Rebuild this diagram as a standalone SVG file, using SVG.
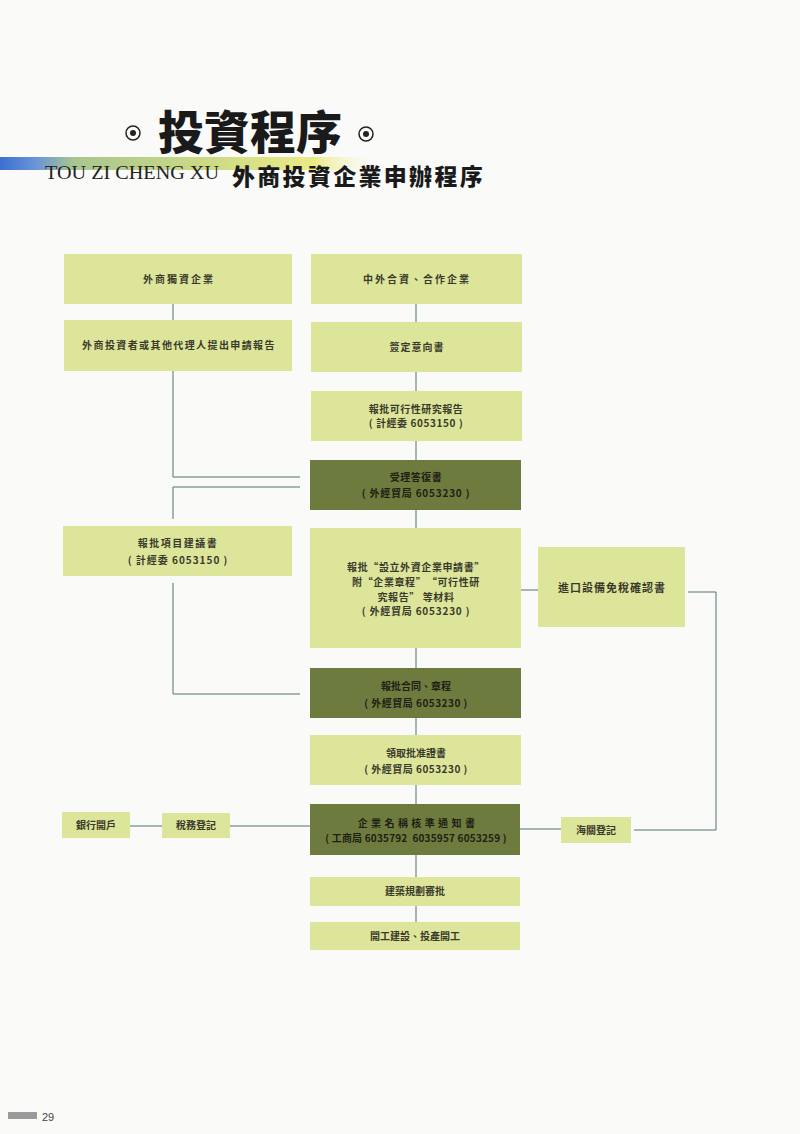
<svg xmlns="http://www.w3.org/2000/svg" width="800" height="1134" viewBox="0 0 800 1134">
<defs>
<linearGradient id="bar" x1="0" y1="0" x2="1" y2="0">
<stop offset="0" stop-color="#3d6fd2"/>
<stop offset="0.1" stop-color="#6b96d6"/>
<stop offset="0.2" stop-color="#a9c68e"/>
<stop offset="0.55" stop-color="#cbd985"/>
<stop offset="0.85" stop-color="#ebeb86"/>
<stop offset="1" stop-color="#f4f4c8" stop-opacity="0"/>
</linearGradient>
<style>
.lt{fill:#dde59a}
.dk{fill:#6e7b3e}
.t{font-family:"Noto Sans CJK TC","Noto Sans CJK SC",sans-serif;font-size:10px;font-weight:700;fill:#3a3a2c;text-anchor:middle}
.d{fill:#1e2014}
.c line,.c polyline{stroke:#4f7471;stroke-width:1;fill:none}
</style>
</defs>
<rect x="0" y="0" width="800" height="1134" fill="#fafaf9"/>

<g id="title">
<circle cx="133" cy="133" r="7" fill="none" stroke="#222" stroke-width="1.5"/>
<circle cx="133" cy="133" r="3" fill="#222"/>
<text x="250" y="149" font-family="'Noto Sans CJK TC','Noto Sans CJK SC',sans-serif" font-size="46" font-weight="900" fill="#1a1a1a" text-anchor="middle">投資程序</text>
<circle cx="366" cy="134" r="7" fill="none" stroke="#222" stroke-width="1.5"/>
<circle cx="366" cy="134" r="3" fill="#222"/>
<rect x="0" y="157" width="370" height="13" fill="url(#bar)"/>
<text x="45" y="179" font-family="'Liberation Serif',serif" font-size="18" fill="#222" textLength="174" lengthAdjust="spacingAndGlyphs">TOU ZI CHENG XU</text>
<text x="232" y="185" font-family="'Noto Sans CJK TC','Noto Sans CJK SC',sans-serif" font-size="23" font-weight="900" fill="#1a1a1a" letter-spacing="2.3">外商投資企業申辦程序</text>
</g>

<g id="connectors" class="c">
<line x1="416" y1="304" x2="416" y2="322"/>
<line x1="416" y1="372" x2="416" y2="391"/>
<line x1="416" y1="441" x2="416" y2="460"/>
<line x1="416" y1="510" x2="416" y2="528"/>
<line x1="416" y1="648" x2="416" y2="668"/>
<line x1="416" y1="718" x2="416" y2="735"/>
<line x1="416" y1="785" x2="416" y2="804"/>
<line x1="416" y1="855" x2="416" y2="877"/>
<line x1="416" y1="906" x2="416" y2="922"/>
<line x1="173" y1="304" x2="173" y2="320"/>
<polyline points="173,371 173,477 300,477"/>
<polyline points="300,487 173,487 173,519"/>
<polyline points="173,583 173,694 300,694"/>
<line x1="521" y1="590" x2="538" y2="590"/>
<polyline points="688,592 716,592 716,830 634,830"/>
<line x1="520" y1="829" x2="561" y2="829"/>
<line x1="130" y1="826" x2="162" y2="826"/>
<line x1="230" y1="826" x2="310" y2="826"/>
</g>

<g id="n1"><rect class="lt" x="64" y="254" width="228" height="50"/><text class="t" x="179" y="283" letter-spacing="2">外商獨資企業</text></g>
<g id="n2"><rect class="lt" x="311" y="254" width="211" height="50"/><text class="t" x="417" y="283" letter-spacing="2">中外合資、合作企業</text></g>
<g id="n3"><rect class="lt" x="64" y="320" width="228" height="51"/><text class="t" x="179" y="349" letter-spacing="1.4">外商投資者或其他代理人提出申請報告</text></g>
<g id="n4"><rect class="lt" x="311" y="322" width="211" height="50"/><text class="t" x="417" y="351" letter-spacing="1">簽定意向書</text></g>
<g id="n5"><rect class="lt" x="311" y="391" width="211" height="50"/><text class="t" x="416" y="413" letter-spacing="0.5">報批可行性研究報告</text><text class="t" x="416" y="427" letter-spacing="0.6">( 計經委 6053150 )</text></g>
<g id="n6"><rect class="dk" x="310" y="460" width="211" height="50"/><text class="t d" x="416" y="481" letter-spacing="0.5">受理答復書</text><text class="t d" x="416" y="497" letter-spacing="0.8">( 外經貿局 6053230 )</text></g>
<g id="n7"><rect class="lt" x="63" y="526" width="229" height="50"/><text class="t" x="178" y="547" letter-spacing="1.5">報批項目建議書</text><text class="t" x="178" y="564" letter-spacing="1">( 計經委 6053150 )</text></g>
<g id="n8"><rect class="lt" x="310" y="528" width="211" height="120"/>
<text class="t" x="416" y="571" letter-spacing="0.6">報批“設立外資企業申請書”</text>
<text class="t" x="416" y="586" letter-spacing="0.6">附“企業章程”　“可行性研</text>
<text class="t" x="416" y="601" letter-spacing="0.6">究報告” 等材料</text>
<text class="t" x="416" y="615" letter-spacing="0.8">( 外經貿局 6053230 )</text></g>
<g id="n9"><rect class="lt" x="538" y="547" width="147" height="80"/><text class="t" x="612" y="592" style="font-size:11px" letter-spacing="1">進口設備免稅確認書</text></g>
<g id="n10"><rect class="dk" x="310" y="668" width="211" height="50"/><text class="t d" x="416" y="690">報批合同、章程</text><text class="t d" x="416" y="707" letter-spacing="0.5">( 外經貿局 6053230 )</text></g>
<g id="n11"><rect class="lt" x="310" y="735" width="211" height="50"/><text class="t" x="416" y="757">領取批准證書</text><text class="t" x="416" y="773" letter-spacing="0.5">( 外經貿局 6053230 )</text></g>
<g id="n12"><rect class="dk" x="310" y="804" width="210" height="51"/><text class="t d" x="418" y="827" letter-spacing="3.4">企業名稱核準通知書</text><text class="t d" x="416" y="842" letter-spacing="0.2">( 工商局 6035792 &#160;6035957 6053259 )</text></g>
<g id="n13"><rect class="lt" x="62" y="812" width="68" height="26"/><text class="t" x="96" y="829">銀行開戶</text></g>
<g id="n14"><rect class="lt" x="162" y="813" width="68" height="25"/><text class="t" x="196" y="829">稅務登記</text></g>
<g id="n15"><rect class="lt" x="561" y="817" width="70" height="26"/><text class="t" x="596" y="834">海關登記</text></g>
<g id="n16"><rect class="lt" x="310" y="877" width="210" height="29"/><text class="t" x="415" y="895">建築規劃審批</text></g>
<g id="n17"><rect class="lt" x="310" y="922" width="210" height="28"/><text class="t" x="415" y="940">開工建設、投產開工</text></g>

<g id="page">
<rect x="8" y="1112" width="29" height="7" fill="#9a9a9a"/>
<text x="42" y="1121" font-family="'Liberation Sans',sans-serif" font-size="11" fill="#444">29</text>
</g>
</svg>
